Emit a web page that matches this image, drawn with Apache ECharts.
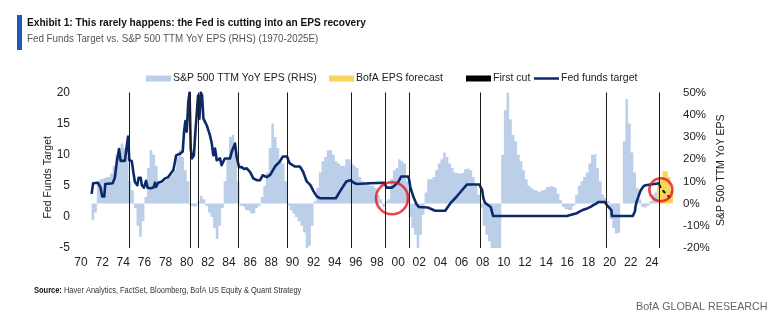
<!DOCTYPE html>
<html>
<head>
<meta charset="utf-8">
<script src="https://cdn.jsdelivr.net/npm/echarts@6/dist/echarts.min.js"></script>
<style>
  html, body { margin: 0; padding: 0; background: #ffffff; }
  #chart { width: 776px; height: 329px; }
</style>
</head>
<body>
<div id="chart"></div>
<script>
// ---- Fed funds target (LHS, %), dated in decimal years ----
const fedYears = [
  1971.0, 1971.15, 1971.6, 1971.85, 1972.0, 1972.2, 1972.3, 1973.0, 1973.2, 1973.4,
  1973.6, 1973.75, 1974.15, 1974.32, 1974.45, 1974.57, 1974.8, 1974.95, 1975.1, 1975.33,
  1975.45, 1975.65, 1975.75, 1975.95, 1976.15, 1976.3, 1976.55, 1976.85, 1977.0, 1977.1,
  1977.3, 1977.65, 1977.95, 1978.25, 1978.75, 1979.0, 1979.4, 1979.62, 1979.75, 1979.87,
  1980.0, 1980.15, 1980.27, 1980.38, 1980.5, 1980.68, 1980.82, 1980.95, 1981.07, 1981.2,
  1981.33, 1981.45, 1981.58, 1981.75, 1981.9, 1982.05, 1982.2, 1982.37, 1982.52, 1982.68,
  1982.84, 1983.15, 1983.3, 1983.6, 1984.1, 1984.26, 1984.57, 1984.73, 1984.95, 1985.2,
  1985.43, 1985.68, 1986.0, 1986.3, 1986.62, 1986.94, 1987.2, 1987.57, 1987.9, 1988.35,
  1988.8, 1989.1, 1989.5, 1989.6, 1989.75, 1990.25, 1990.7, 1991.0, 1991.35, 1991.7,
  1992.0, 1992.3, 1992.6, 1994.1, 1994.5, 1994.8, 1995.1, 1995.45, 1995.8, 1996.1,
  1997.3, 1998.7, 1998.9, 1999.4, 1999.7, 2000.0, 2000.3, 2000.95, 2001.05, 2001.15,
  2001.3, 2001.45, 2001.6, 2001.75, 2001.95, 2002.8, 2002.9, 2003.5, 2004.45, 2004.7,
  2004.95, 2005.5, 2006.0, 2006.5, 2007.7, 2007.8, 2007.95, 2008.05, 2008.2, 2008.35,
  2008.75, 2008.85, 2008.98, 2015.95, 2016.0, 2016.9, 2017.2, 2017.45, 2017.95, 2018.2,
  2018.45, 2018.7, 2018.95, 2019.55, 2019.6, 2019.75, 2019.85, 2020.17, 2020.22, 2022.2,
  2022.3, 2022.4, 2022.45, 2022.55, 2022.7, 2022.85, 2022.95, 2023.1, 2023.2, 2023.4,
  2023.55, 2024.72
];
const fedRates = [
  3.7, 5.4, 5.5, 4.7, 3.3, 3.3, 5.3, 5.4, 6.3, 9.0,
  10.9, 9.0, 9.0, 11.3, 12.9, 9.1, 9.0, 7.2, 5.6, 5.1,
  6.3, 6.3, 5.1, 4.7, 5.8, 4.7, 4.6, 4.7, 5.5, 4.8,
  5.5, 5.7, 6.2, 6.4, 7.6, 9.9, 10.2, 10.5, 13.7, 15.4,
  13.7, 18.5, 20, 11, 9.4, 9.9, 13.7, 16.6, 19.5, 15.8,
  20, 19.6, 15.8, 15.5, 14.7, 15, 13.1, 11.8, 9.9, 11,
  9.1, 9.4, 8.3, 9.4, 9.4, 10.5, 11.8, 9.6, 8.0, 8.0,
  7.7, 7.8, 7.2, 6.2, 5.9, 5.9, 6.7, 6.4, 6.75, 8.1,
  8.9, 9.7, 9.7, 9.2, 8.6, 8.1, 8.1, 7.3, 5.7, 5.1,
  4.1, 3.3, 3.0, 3.0, 4.1, 4.9, 5.7, 5.9, 5.5, 5.3,
  5.4, 5.5, 4.7, 4.7, 5.1, 5.6, 6.5, 6.5, 5.9, 4.8,
  4.0, 3.2, 2.6, 2.0, 1.6, 1.5, 1.2, 1.0, 1.0, 1.6,
  2.2, 3.2, 4.2, 5.2, 5.2, 4.8, 4.3, 3.1, 2.3, 2.0,
  1.6, 1.0, 0.15, 0.15, 0.4, 0.6, 0.9, 1.1, 1.4, 1.6,
  1.9, 2.1, 2.4, 2.4, 2.1, 1.9, 1.6, 1.1, 0.15, 0.15,
  0.4, 0.9, 1.6, 2.4, 3.1, 3.9, 4.3, 4.6, 4.9, 5.1,
  5.4, 5.4
];
// Expected path of the target after the latest cut (dotted)
const fedPathYears = [2024.72, 2024.95, 2025.4, 2025.85];
const fedPathRates = [5.1, 4.4, 3.6, 2.9];

// ---- S&P 500 trailing EPS, YoY % (RHS), quarterly from 1971 Q1 ----
const epsFirstQuarter = 1971.0;
const epsYoY = [
  -7.5, -4, 10, 11,        // 1971
  11.5, 12, 12, 13.5,      // 1972
  17, 22, 25, 27,          // 1973
  25, 21, 10, 6,           // 1974
  -2, -10, -15, -8,        // 1975
  3, 16, 24, 22,           // 1976
  17, 10, 9, 10,           // 1977
  11, 12, 13, 15,          // 1978
  21, 24, 21, 15,          // 1979
  10, -1, -1.5, -1,        // 1980
  1, 3.5, 2, -1,           // 1981
  -4, -6, -11, -16,        // 1982
  -10, -2, 10, 20,         // 1983
  30, 31, 25, 10,          // 1984
  -1, -1.5, -3, -3.5,      // 1985
  -4.5, -4, -2, -1,        // 1986
  3, 8, 14, 25,            // 1987
  36, 30, 25, 19,          // 1988
  18, 10, -1, -3,          // 1989
  -4.5, -6, -8, -10,       // 1990
  -13, -20, -19, -10,      // 1991
  1, 7, 14, 19,            // 1992
  21, 24, 24, 22,          // 1993
  19, 18, 17, 17,          // 1994
  20, 20, 18, 17,          // 1995
  16, 12, 10, 9,           // 1996
  9, 8, 8, 7,              // 1997
  4, 2, -1.5, 1,           // 1998
  2, 11, 15, 16,           // 1999
  20, 19, 18, 10,          // 2000
  -6, -11, -14, -20,       // 2001
  -14, -5, 5, 11,          // 2002
  11, 12, 15, 18,          // 2003
  20, 23, 21, 18,          // 2004
  16, 14, 13.5, 13.5,      // 2005
  14, 15.5, 16, 15,        // 2006
  12, 9, 4, -2,            // 2007
  -10, -14, -17, -20,      // 2008
  -20, -20, -20, 22,       // 2009
  42, 50, 38, 31,          // 2010
  28, 22, 19, 15,          // 2011
  11, 8, 7, 6,             // 2012
  5.5, 5, 6, 6.5,          // 2013
  7.5, 8, 7.5, 7,          // 2014
  4.5, 1.5, -1.5, -2.5,    // 2015
  -3, -2.5, -1, 4,         // 2016
  8, 10, 12, 14,           // 2017
  18, 22, 22.5, 16,        // 2018
  10, 4, 2.5, 1,           // 2019
  -7, -11, -13.5, -13,     // 2020
  0, 28, 47, 36,           // 2021
  23, 14, 7, 2,            // 2022
  -1.5, -2, -1, 1,         // 2023
  4, 5                     // 2024 H1
];
// BofA forecast, quarterly from 2024 Q3
const epsForecastFirstQuarter = 2024.5;
const epsForecast = [10.5, 10.5, 14.5, 14.5, 12, 6];

// Dates of the first rate cut of each easing cycle
const firstCutYears = [1974.57, 1980.3, 1981.07, 1984.85, 1989.49, 1995.6, 1998.76, 2001.06, 2007.75, 2019.64, 2024.71];

// Highlighted episodes (cut while EPS is recovering)
const highlightYears = [1999.42, 2024.85];
const highlightRates = [3.0, 4.37];

// ---- styling ----
const SANS = "'Liberation Sans', Arial, sans-serif";
const NAVY = '#0c2a6a';
const EPS_BLUE = '#bccfe8';
const FORECAST_YELLOW = '#f9d45a';

// quarterly step points: each value holds until the next quarter starts
function quarterSteps(start, values) {
  const pts = values.map((v, i) => [start + i * 0.25, v]);
  pts.push([start + values.length * 0.25, values[values.length - 1]]);
  return pts;
}
const pairs = (xs, ys) => xs.map((x, i) => [x, ys[i]]);

const chart = echarts.init(document.getElementById('chart'), null, { renderer: 'canvas' });

const legendBase = {
  top: 68,
  itemWidth: 25,
  itemHeight: 6,
  itemGap: 0,
  selectedMode: false,
  textStyle: { fontFamily: SANS, fontSize: 10.5, color: '#222', padding: [0, 0, 0, -3] }
};

// condensed caption text: horizontally squeezed sans
function caption(x, y, text, font, fill, squeeze, extra) {
  return {
    type: 'text', x: x, y: y, scaleX: squeeze, scaleY: 1,
    style: Object.assign({ text: text, font: font, fill: fill, align: 'left', verticalAlign: 'middle' }, extra || {})
  };
}

chart.setOption({
  animation: false,
  backgroundColor: '#ffffff',
  textStyle: { fontFamily: SANS },
  grid: { left: 81, right: 103, top: 92.5, bottom: 81, containLabel: false },
  legend: [
    Object.assign({}, legendBase, { left: 141, data: [{ name: 'S&P 500 TTM YoY EPS (RHS)', icon: 'rect', itemStyle: { color: EPS_BLUE } }] }),
    Object.assign({}, legendBase, { left: 324, data: [{ name: 'BofA EPS forecast', icon: 'rect', itemStyle: { color: FORECAST_YELLOW } }] }),
    Object.assign({}, legendBase, { left: 461, data: [{ name: 'First cut', icon: 'rect', itemStyle: { color: '#000000' } }] }),
    Object.assign({}, legendBase, { left: 529, symbolKeepAspect: true, data: [{ name: 'Fed funds target', icon: 'path://M0,0H25V2.5H0Z', itemStyle: { color: NAVY, borderWidth: 0 }, lineStyle: { width: 0 } }] })
  ],
  xAxis: {
    type: 'value',
    min: 1970,
    max: 2026,
    interval: 2,
    axisLine: { show: false },
    axisTick: { show: false },
    splitLine: { show: false },
    axisLabel: {
      margin: 9,
      fontFamily: SANS,
      fontSize: 12,
      color: '#222',
      showMaxLabel: false,
      formatter: v => (v % 2 === 0 && v <= 2024) ? String(v).slice(2) : ''
    }
  },
  yAxis: [
    {
      type: 'value',
      min: -5,
      max: 20,
      interval: 5,
      position: 'left',
      name: 'Fed Funds Target',
      nameLocation: 'middle',
      nameGap: 27,
      nameRotate: 90,
      nameMoveOverlap: false,
      nameTextStyle: { fontFamily: SANS, fontSize: 10.5, color: '#222', padding: [0, 14, 0, 0] },
      axisLine: { show: false },
      axisTick: { show: false },
      splitLine: { show: false },
      axisLabel: { margin: 11, fontFamily: SANS, fontSize: 12, color: '#222' }
    },
    {
      type: 'value',
      min: -20,
      max: 50,
      interval: 10,
      position: 'right',
      name: 'S&P 500 TTM YoY EPS',
      nameLocation: 'middle',
      nameGap: 43,
      nameRotate: 90,
      nameMoveOverlap: false,
      nameTextStyle: { fontFamily: SANS, fontSize: 10.5, color: '#222' },
      axisLine: { show: false },
      axisTick: { show: false },
      splitLine: { show: false },
      axisLabel: { margin: 10, fontFamily: SANS, fontSize: 11.5, color: '#222', formatter: '{value}%' }
    }
  ],
  series: [
    {
      name: 'S&P 500 TTM YoY EPS (RHS)',
      type: 'line',
      yAxisIndex: 1,
      step: 'end',
      symbol: 'none',
      z: 1,
      itemStyle: { color: EPS_BLUE },
      lineStyle: { width: 0, color: EPS_BLUE },
      areaStyle: { color: EPS_BLUE, opacity: 1 },
      data: quarterSteps(epsFirstQuarter, epsYoY)
    },
    {
      name: 'BofA EPS forecast',
      type: 'line',
      yAxisIndex: 1,
      step: 'end',
      symbol: 'none',
      z: 1,
      itemStyle: { color: FORECAST_YELLOW },
      lineStyle: { width: 0, color: FORECAST_YELLOW },
      areaStyle: { color: FORECAST_YELLOW, opacity: 1 },
      data: quarterSteps(epsForecastFirstQuarter, epsForecast)
    },
    {
      name: 'First cut',
      type: 'line',
      yAxisIndex: 0,
      symbol: 'none',
      z: 2,
      itemStyle: { color: '#000000' },
      lineStyle: { color: '#000000' },
      data: [],
      markLine: {
        silent: true,
        symbol: ['none', 'none'],
        label: { show: false },
        lineStyle: { color: '#1a1a1a', width: 1, type: 'solid' },
        data: firstCutYears.map(y => ({ xAxis: y }))
      }
    },
    {
      name: 'Fed funds target',
      type: 'line',
      yAxisIndex: 0,
      symbol: 'none',
      z: 3,
      itemStyle: { color: NAVY },
      lineStyle: { color: NAVY, width: 2.6, join: 'round' },
      data: pairs(fedYears, fedRates)
    },
    {
      name: 'Fed funds path',
      type: 'line',
      yAxisIndex: 0,
      symbol: 'none',
      z: 3,
      lineStyle: { color: '#1a1a2e', width: 2.2, type: [2, 5], cap: 'round' },
      data: pairs(fedPathYears, fedPathRates)
    },
    {
      name: 'Highlight',
      type: 'scatter',
      yAxisIndex: 0,
      z: 4,
      symbol: 'circle',
      symbolSize: (v, p) => (p.dataIndex === 0 ? 32 : 23),
      itemStyle: { color: 'rgba(0,0,0,0)', borderColor: '#e3161d', borderWidth: 2.6 },
      data: pairs(highlightYears, highlightRates)
    }
  ],
  graphic: [
    { type: 'rect', x: 17, y: 15, shape: { width: 5, height: 35 }, style: { fill: '#1f59b9' } },
    caption(27, 22.5, 'Exhibit 1: This rarely happens: the Fed is cutting into an EPS recovery', "bold 11.8px " + SANS, '#111', 0.86),
    caption(27, 38.5, 'Fed Funds Target vs. S&P 500 TTM YoY EPS (RHS) (1970-2025E)', "11.8px " + SANS, '#555', 0.83),
    caption(34, 291, '{b|Source:} Haver Analytics, FactSet, Bloomberg, BofA US Equity & Quant Strategy', "8.5px " + SANS, '#333', 0.88,
      { rich: { b: { font: "bold 8.5px " + SANS, fill: '#111' } } }),
    caption(636, 307.5, 'BofA GLOBAL RESEARCH', "10.5px " + SANS, '#666', 1.02)
  ]
});
</script>
</body>
</html>
